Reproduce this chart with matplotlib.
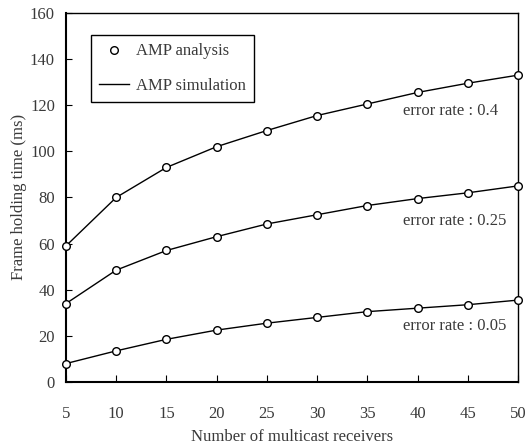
import matplotlib.pyplot as plt
from matplotlib.lines import Line2D

receivers = [5, 10, 15, 20, 25, 30, 35, 40, 45, 50]

# frame holding time (ms) per error rate
rate_04 = [59, 80, 93, 102, 109, 115.5, 120.5, 125.5, 129.5, 133]
rate_025 = [34, 48.5, 57, 63, 68.5, 72.5, 76.5, 79.5, 82, 85]
rate_005 = [8, 13.5, 18.5, 22.5, 25.5, 28, 30.5, 32, 33.5, 35.5]

labels = ["error rate : 0.4", "error rate : 0.25", "error rate : 0.05"]
label_y = [117.5, 69.8, 24.3]

plt.rcParams['font.family'] = ['Liberation Serif', 'DejaVu Serif']
plt.rcParams['font.size'] = 12
txt = "#3a3a3a"

fig = plt.figure(figsize=(5.25, 4.48), dpi=100)
ax = fig.add_axes([0.1257, 0.1473, 0.861, 0.824])

for series in [rate_04, rate_025, rate_005]:
    ax.plot(receivers, series, color="black", linewidth=1, marker='o',
            markersize=5.5, markerfacecolor="white", markeredgecolor="black",
            markeredgewidth=1, clip_on=False, zorder=3)

for lab, yy in zip(labels, label_y):
    ax.text(38.55, yy, lab, color=txt, fontsize=12, ha='left', va='center')

ax.set_xlim(5, 50)
ax.set_ylim(0, 160)
ax.set_xticks(receivers)
ax.set_yticks(range(0, 161, 20))
ax.tick_params(direction='in', colors=txt, labelsize=12)
ax.tick_params(axis='x', length=5, pad=17, color='black')
ax.tick_params(axis='y', length=4, pad=8, color='black')
for s in ax.spines.values():
    s.set_linewidth(1)
ax.spines['bottom'].set_linewidth(1.5)
ax.spines['left'].set_linewidth(1.5)

ax.set_xlabel("Number of multicast receivers", color=txt, labelpad=5)
ax.set_ylabel("Frame holding time (ms)", color=txt, labelpad=2)

handles = [
    Line2D([], [], linestyle='none', marker='o', markersize=5.5,
           markerfacecolor='white', markeredgecolor='black', markeredgewidth=1),
    Line2D([], [], color='black', linewidth=1),
]
leg = ax.legend(handles, ["AMP analysis", "AMP simulation"], loc='upper left',
                bbox_to_anchor=(0.055, 0.94), fancybox=False, framealpha=1,
                edgecolor='black', handlelength=1.8, labelspacing=1.1,
                borderpad=0.5, handletextpad=0.4, borderaxespad=0)
leg.get_frame().set_linewidth(1)
for t in leg.get_texts():
    t.set_color(txt)

fig.savefig("out.png", dpi=100)
